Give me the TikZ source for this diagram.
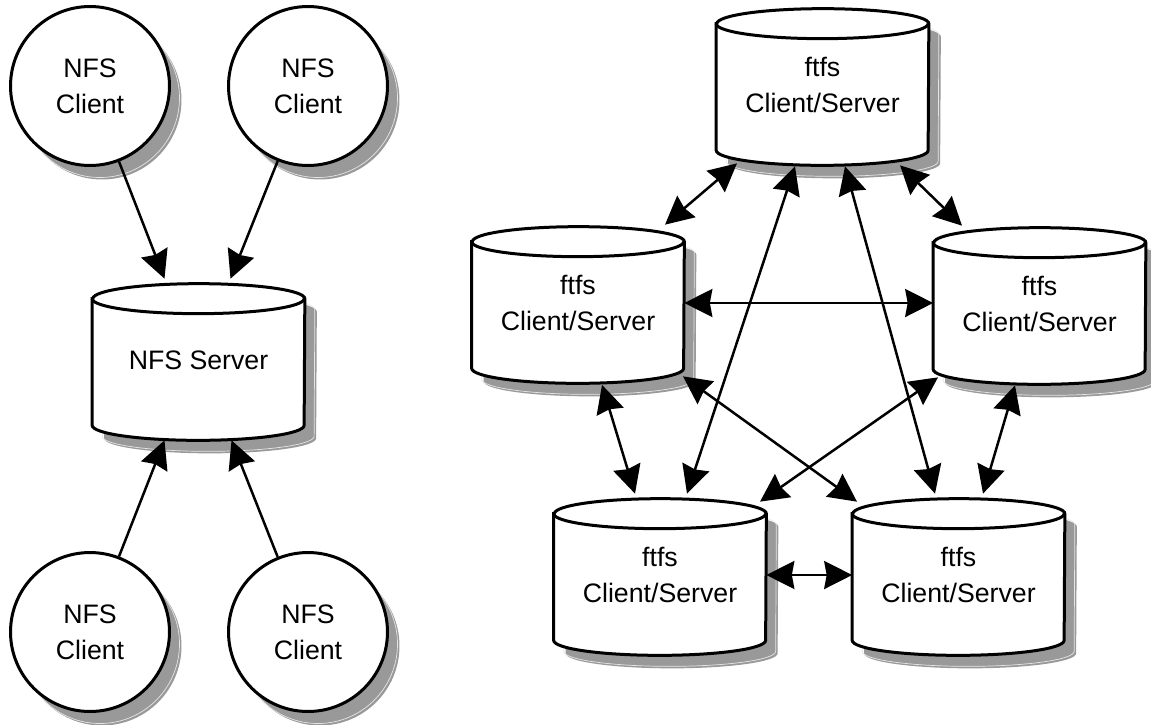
\documentclass[tikz,border=0pt]{standalone}
\usepackage{fontspec}
\setmainfont{Liberation Sans}
\usetikzlibrary{calc, arrows.meta, backgrounds}

\begin{document}
\begin{tikzpicture}[x=0.02cm, y=-0.02cm,
    >={Stealth[length=0.56cm, width=0.56cm, inset=0.05cm]},
    lbl/.style={align=center, font=\fontsize{15.2}{20.5}\selectfont},
    client/.style={lbl, draw, circle, line width=0.06cm, fill=white,
                   minimum size=3.18cm, inner sep=0pt},
    drum/.style={lbl, minimum width=4.24cm, minimum height=3.12cm, inner sep=0pt},
    drumline/.style={draw, fill=white, line width=0.06cm},
    dropshade/.style={fill=black!40},
    dropline/.style={draw=black!10, line width=0.4pt},
    link/.style={line width=0.05cm}
  ]
    \useasboundingbox (0,0) rectangle (1151,724);

    % NFS side
    \node[client] (ctl) at (90,86)  {NFS\\Client};
    \node[client] (ctr) at (308,86) {NFS\\Client};
    \node[client] (cbl) at (90,632) {NFS\\Client};
    \node[client] (cbr) at (308,632) {NFS\\Client};
    \node[drum] (srv) at (198.5,360) {NFS Server};

    % ftfs side
    \node[drum] (ftop)   at (822.5,85)  {ftfs\\Client/Server};
    \node[drum] (fleft)  at (578,303)   {ftfs\\Client/Server};
    \node[drum] (fright) at (1039.5,304) {ftfs\\Client/Server};
    \node[drum] (fbl)    at (660,575)   {ftfs\\Client/Server};
    \node[drum] (fbr)    at (958.5,575) {ftfs\\Client/Server};

    % cylinders and shadows
    \begin{scope}[on background layer]
      \foreach \n in {srv,ftop,fleft,fright,fbl,fbr} {
        \foreach \dx/\dy/\sty in {12/13/dropshade, 10/11/dropline, 0/0/drumline}
          \path[\sty] ([shift={(\dx,\dy+17)}]\n.north west)
            -- ([shift={(\dx,\dy-13)}]\n.south west)
            arc[start angle=180, end angle=360, x radius=2.12cm, y radius=0.3cm]
            -- ([shift={(\dx,\dy+17)}]\n.north east)
            arc[start angle=0, end angle=180, x radius=2.12cm, y radius=0.3cm]
            -- cycle;
        \draw[line width=0.06cm] ([shift={(0,17)}]\n.north west)
          arc[start angle=180, end angle=360, x radius=2.12cm, y radius=0.3cm];
      }
      \foreach \n in {ctl,ctr,cbl,cbr} {
        \fill[dropshade] ([shift={(12,14)}]\n.center) circle[radius=1.59cm];
        \draw[dropline] ([shift={(10,12)}]\n.center) circle[radius=1.59cm];
      }
    \end{scope}

    % client arrows
    \draw[link, ->] (ctl.-69)  -- ($(srv.north)+(-34,-3)$);
    \draw[link, ->] (ctr.-112) -- ($(srv.north)+(32,-3)$);
    \draw[link, ->] (cbl.69)   -- ($(srv.south)+(-34,2)$);
    \draw[link, ->] (cbr.112)  -- ($(srv.south)+(33,2)$);

    % peer arrows
    \draw[link, <->] ($(ftop.south)+(-85.5,0)$) -- ($(fleft.north)+(87,0)$);
    \draw[link, <->] ($(ftop.south)+(77.5,2)$) -- ($(fright.north)+(-77.5,0)$);
    \draw[link, <->] (fleft.east) -- (fleft.east -| fright.west);
    \draw[link, <->] ($(ftop.south)+(-27.5,3)$) -- ($(fbl.north)+(27,-3)$);
    \draw[link, <->] ($(ftop.south)+(22.5,3)$) -- ($(fbr.north)+(-23.5,-3)$);
    \draw[link, <->] ($(fleft.south)+(24,3.5)$) -- ($(fbl.north)+(-25,-3)$);
    \draw[link, <->] ($(fleft.south)+(105,-5)$) -- ($(fbr.north)+(-101.5,5)$);
    \draw[link, <->] ($(fright.south)+(-101.5,-5)$) -- ($(fbl.north)+(100,5)$);
    \draw[link, <->] ($(fright.south)+(-24.5,3)$) -- ($(fbr.north)+(24.5,-3)$);
    \draw[link, <->] (fbl.east) -- (fbl.east -| fbr.west);
\end{tikzpicture}
\end{document}
